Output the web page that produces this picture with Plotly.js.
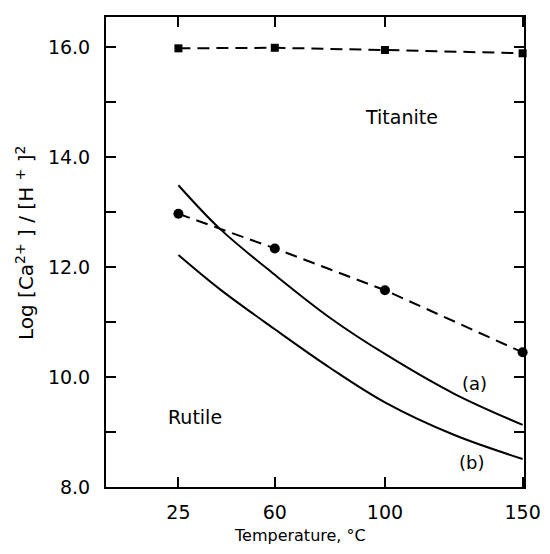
<!DOCTYPE html>
<html>
<head>
<meta charset="utf-8">
<script src="https://cdn.plot.ly/plotly-3.0.1.min.js"></script>
<style>html,body{margin:0;padding:0;background:#fff;}#chart{width:550px;height:554px;}</style>
</head>
<body>
<div id="chart"></div>
<script>
// Data
const tempPts = [25, 60, 100, 150];
const titaniteLine = [15.98, 15.99, 15.95, 15.89];
const dashedCircles = [12.97, 12.34, 11.58, 10.45];

const curveA_T = [25, 40, 60, 80, 100, 125, 150];
const curveA_Y = [13.49, 12.70, 11.86, 11.08, 10.42, 9.70, 9.13];

const curveB_T = [25, 40, 60, 80, 100, 125, 150];
const curveB_Y = [12.22, 11.60, 10.87, 10.17, 9.54, 8.95, 8.51];

const xTicks = [25, 60, 100, 150];
const yTicks = [8, 9, 10, 11, 12, 13, 14, 15, 16];
const yTickText = ['8.0', '', '10.0', '', '12.0', '', '14.0', '', '16.0'];

const font = 'DejaVu Sans, Liberation Sans, sans-serif';

const traces = [
  {x: tempPts, y: titaniteLine, mode: 'lines+markers', type: 'scatter',
   line: {color: '#000', width: 2, dash: '12px,7px'},
   marker: {symbol: 'square', size: 8, color: '#000'}, cliponaxis: false},
  {x: tempPts, y: dashedCircles, mode: 'lines+markers', type: 'scatter',
   line: {color: '#000', width: 2, dash: '12px,7px'},
   marker: {symbol: 'circle', size: 10, color: '#000'}, cliponaxis: false},
  {x: curveA_T, y: curveA_Y, mode: 'lines', type: 'scatter',
   line: {color: '#000', width: 2, shape: 'spline', smoothing: 1}},
  {x: curveB_T, y: curveB_Y, mode: 'lines', type: 'scatter',
   line: {color: '#000', width: 2, shape: 'spline', smoothing: 1}}
];

const layout = {
  width: 550, height: 554,
  margin: {l: 106, r: 26, t: 17, b: 67},
  paper_bgcolor: '#fff', plot_bgcolor: '#fff',
  showlegend: false,
  font: {family: font, color: '#000'},
  xaxis: {
    range: [-1.3, 150.5], tickvals: xTicks, ticktext: xTicks.map(String),
    ticks: 'inside', ticklen: 10, tickwidth: 2, tickcolor: '#000',
    showline: true, linecolor: '#000', linewidth: 2, mirror: 'ticks',
    showgrid: false, zeroline: false,
    tickfont: {size: 19, family: font}, ticklabelstandoff: 7
  },
  yaxis: {
    range: [8, 16.55], tickvals: yTicks, ticktext: yTickText,
    ticks: 'inside', ticklen: 10, tickwidth: 2, tickcolor: '#000',
    showline: true, linecolor: '#000', linewidth: 2, mirror: 'ticks',
    showgrid: false, zeroline: false,
    tickfont: {size: 19, family: font}, ticklabelstandoff: 10
  },
  annotations: [
    {text: 'Titanite', x: 106, y: 14.73, xref: 'x', yref: 'y', showarrow: false, font: {size: 19}},
    {text: 'Rutile', x: 31, y: 9.27, xref: 'x', yref: 'y', showarrow: false, font: {size: 19}},
    {text: '(a)', x: 132.7, y: 9.89, xref: 'x', yref: 'y', showarrow: false, font: {size: 18}},
    {text: '(b)', x: 131.6, y: 8.45, xref: 'x', yref: 'y', showarrow: false, font: {size: 18}},
    {text: 'Temperature, °C', showarrow: false, xref: 'paper', yref: 'paper',
     xanchor: 'center', yanchor: 'middle', font: {size: 16}},
    {text: 'Log [Ca<sup>2+</sup> ] / [H <sup>+</sup> ]<sup>2</sup>', showarrow: false, textangle: -90,
     xref: 'paper', yref: 'paper', xanchor: 'center', yanchor: 'middle', font: {size: 20}}
  ]
};

// place the axis-title annotations at pixel positions
const pw = 550 - 106 - 26, ph = 554 - 17 - 67;
layout.annotations[4].x = (300 - 106) / pw; layout.annotations[4].y = (554 - 67 - 535) / ph;
layout.annotations[5].x = (25 - 106) / pw; layout.annotations[5].y = (554 - 67 - 243) / ph;

Plotly.newPlot('chart', traces, layout, {displayModeBar: false, staticPlot: true});
</script>
</body>
</html>
